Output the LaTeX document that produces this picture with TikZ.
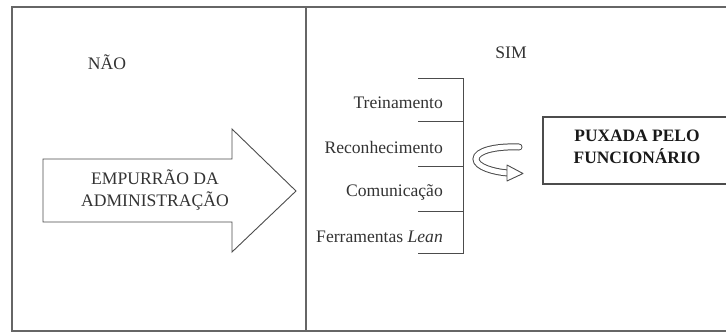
\documentclass[tikz,border=0pt]{standalone}
\usepackage{fontspec}
\setmainfont{Liberation Serif}
\begin{document}
\begin{tikzpicture}[x=1pt,y=-1pt,
  frame/.style={draw=black!60, line width=1.6pt},
  outline/.style={draw=black!70, line width=0.9pt},
  lbl/.style={font=\fontsize{17.6}{22}\selectfont, text=black!80, inner sep=0pt},
  item/.style={lbl, anchor=east},
  boldlbl/.style={font=\fontsize{17.4}{22}\selectfont\bfseries, text=black!90, align=center, inner sep=0pt}
]
\useasboundingbox (0,0) rectangle (726,333);

% outer frame and divider
\draw[frame] (12,7) rectangle (740,331);
\draw[frame] (306,7) -- (306,331);

% column headings
\node[lbl] (nao) at (107,62) {NÃO};
\node[lbl] (sim) at (511,53) {SIM};

% block arrow: push from management
\draw[outline, fill=white]
  (43,159) -- (232,159) -- (232,129) -- (296,191) -- (232,252) -- (232,222) -- (43,222) -- cycle;
\node[lbl, align=center] (push) at (155,190) {EMPURRÃO DA\\ADMINISTRAÇÃO};

% bracket with the four practices
\draw[outline] (418,78) -- (463,78) -- (463,253) -- (418,253);
\draw[outline] (418,121) -- (463,121);
\draw[outline] (418,166) -- (463,166);
\draw[outline] (418,211) -- (463,211);
\node[item] (t1) at (443,103) {Treinamento};
\node[item] (t2) at (443,147) {Reconhecimento};
\node[item] (t3) at (443,192) {Comunicação};
\node[item] (t4) at (443,237) {Ferramentas \textit{Lean}};

% hollow curved arrow
\draw[draw=black!70, line width=1pt, double=white, double distance=5pt, line cap=round]
  (519,147) .. controls (495,146) and (476,151) .. (476,159)
            .. controls (476,167) and (494,172) .. (508,173);
\draw[outline, fill=white, line join=round] (507,165) -- (523,173.5) -- (507,181) -- cycle;

% pull box
\node[draw=black!70, line width=1.6pt, minimum width=190pt, minimum height=67pt, anchor=north west] (pullbox) at (542,116) {};
\node[boldlbl] (pull) at (637,147) {PUXADA PELO\\FUNCIONÁRIO};
\end{tikzpicture}
\end{document}
